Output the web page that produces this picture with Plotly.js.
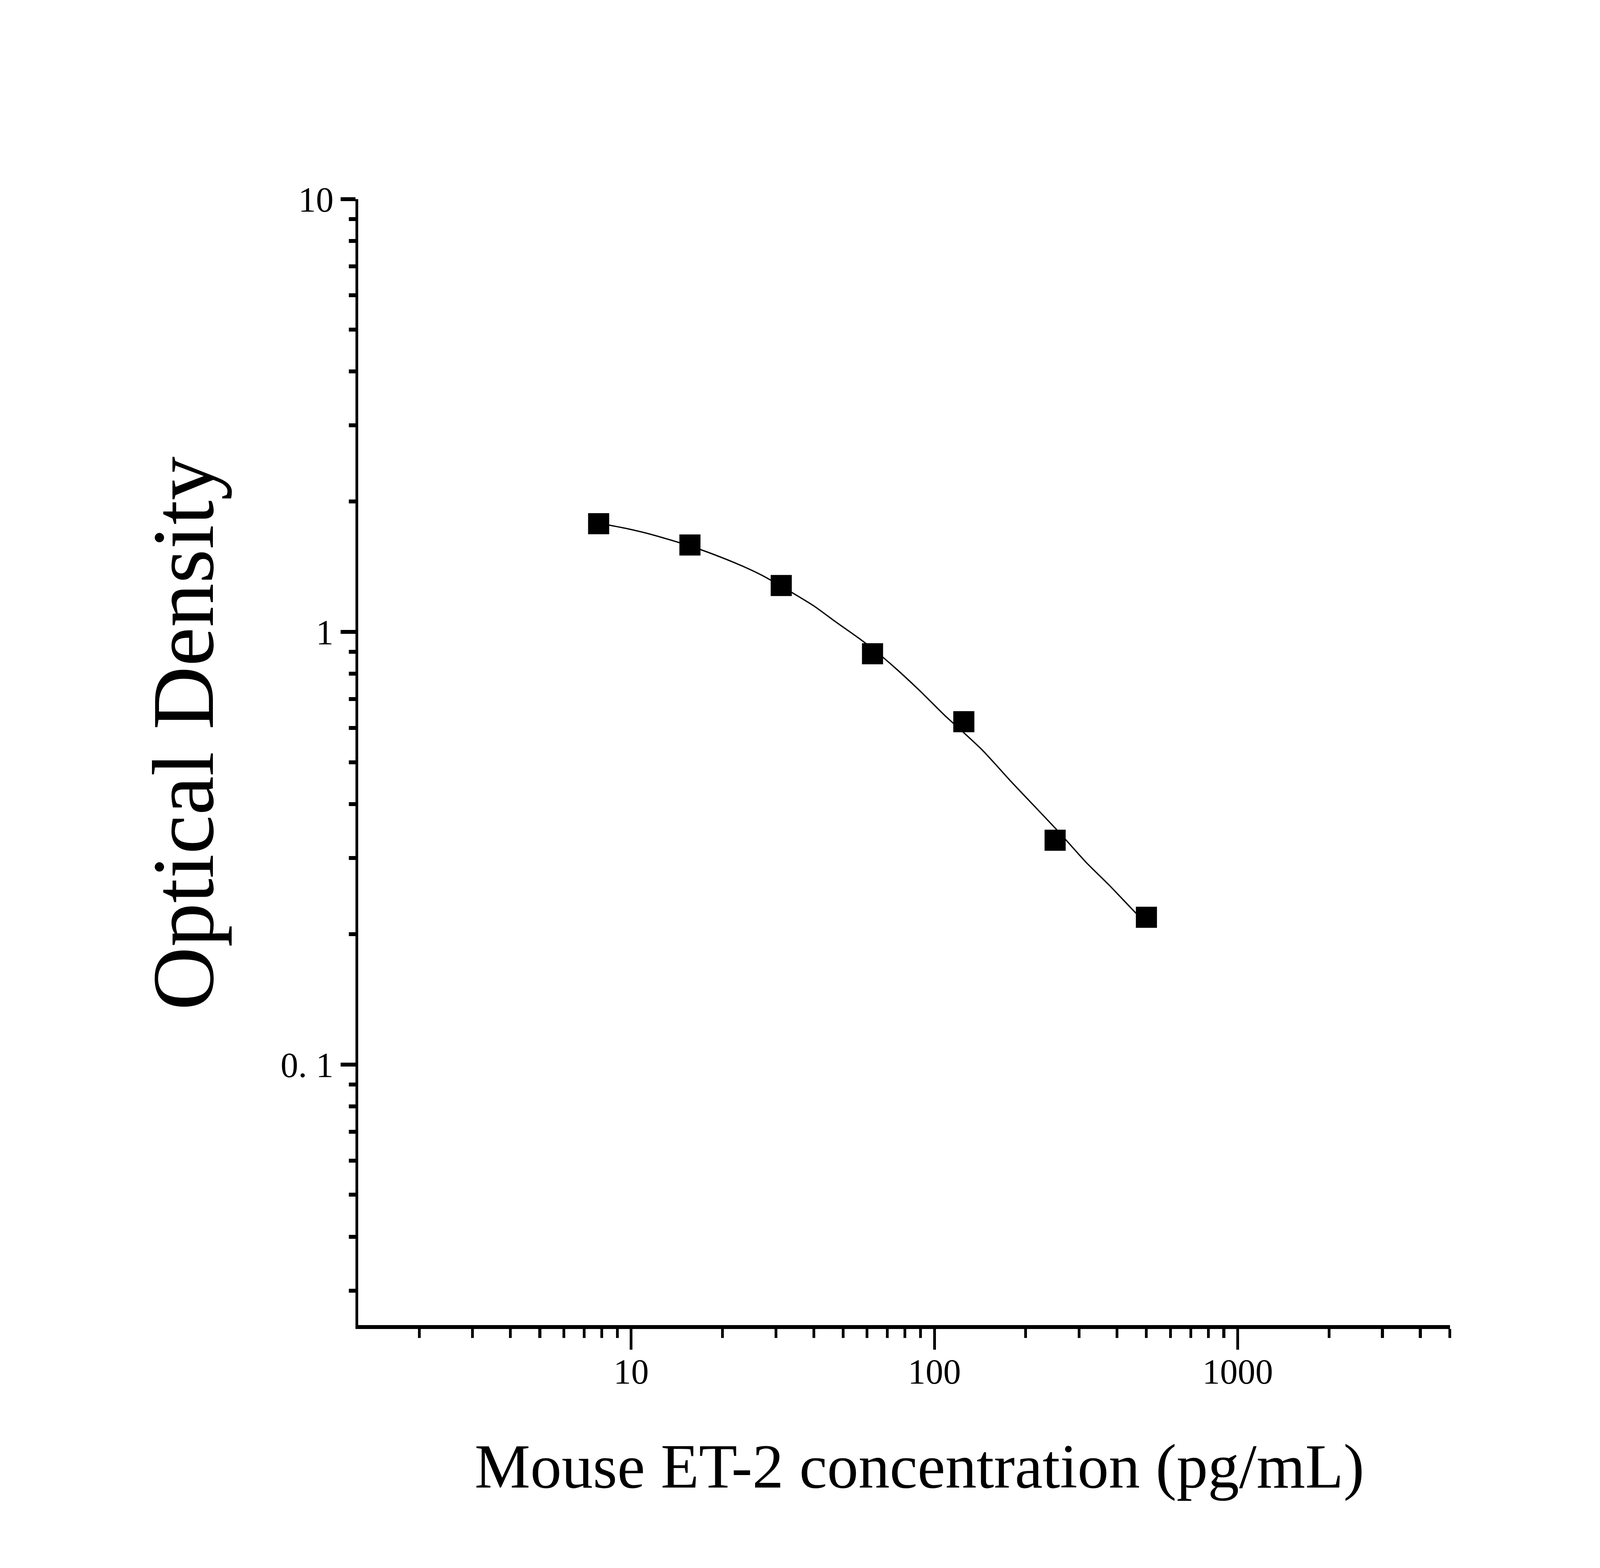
<!DOCTYPE html>
<html>
<head>
<meta charset="utf-8">
<script src="https://cdn.plot.ly/plotly-3.0.1.min.js"></script>
<style>
  html, body { margin: 0; padding: 0; background: #ffffff; overflow: hidden; }
  #chart { position: absolute; left: 0; top: 0; }
</style>
</head>
<body>
<div id="chart"></div>
<script>
/* ── data ─────────────────────────────────────────────────── */
const concentration = [7.8125, 15.625, 31.25, 62.5, 125, 250, 500];
const opticalDensity = [1.778, 1.588, 1.280, 0.890, 0.620, 0.330, 0.219];

// fitted curve
const fitX = [7.8125, 9.73, 11.82, 15.62, 19.67, 23.28, 26.94, 31.24, 40.26, 46.97,
              56.09, 62.47, 74.45, 89.85, 108.4, 121.3, 143.9, 178.9, 213.3, 256.9,
              316, 376.5, 461.3, 500];
const fitY = [1.783, 1.731, 1.675, 1.580, 1.490, 1.419, 1.352, 1.275, 1.145, 1.058,
              0.969, 0.915, 0.824, 0.729, 0.640, 0.596, 0.533, 0.451, 0.396, 0.345,
              0.2935, 0.260, 0.224, 0.212];

// tick labels
const xTickVals = [10, 100, 1000];
const xTickText = ["10", "100", "1000"];
const xMinorVals = [2, 3, 4, 5, 6, 7, 8, 9, 20, 30, 40, 50, 60, 70, 80, 90,
                    200, 300, 400, 500, 600, 700, 800, 900, 2000, 3000, 4000, 5000];
const yTickVals = [0.1, 1, 10];
const yTickText = ["0. 1", "1", "10"];
const yMinorVals = [0.03, 0.04, 0.05, 0.06, 0.07, 0.08, 0.09,
                    0.2, 0.3, 0.4, 0.5, 0.6, 0.7, 0.8, 0.9,
                    2, 3, 4, 5, 6, 7, 8, 9];

const xTitle = "Mouse ET-2 concentration (pg/mL)";
const yTitle = "Optical Density";

/* ── style ─────────────────────────────────────────────────── */
const serif = "'Liberation Serif', 'Times New Roman', serif";
const ink = "#000000";

// design is 5749 x 4015; stretch it over the real window
const BASE_W = 5749, BASE_H = 4015;
const W = window.innerWidth || BASE_W;
const H = window.innerHeight || BASE_H;
const sx = W / BASE_W, sy = H / BASE_H;
const sf = Math.sqrt(sx * sy);          // marker / line scale
const hx = v => v * sx;                 // horizontal sizes
const vy = v => v * sy;                 // vertical sizes
const f  = v => v * sf;

const fitTrace = {
    x: fitX,
    y: fitY,
    type: "scatter",
    mode: "lines",
    line: { color: ink, width: f(4), shape: "spline", smoothing: 0.6 },
    hoverinfo: "skip",
    showlegend: false
};

const pointTrace = {
    x: concentration,
    y: opticalDensity,
    type: "scatter",
    mode: "markers",
    marker: { symbol: "square", size: f(64), color: ink, line: { width: 0 } },
    showlegend: false
};

// x ticks run vertically, y ticks horizontally
function axisStyle(lenScale, widthScale) {
    return {
        type: "log",
        showline: true,
        linecolor: ink,
        linewidth: lenScale(10),
        showgrid: false,
        zeroline: false,
        ticks: "outside",
        tickcolor: ink,
        tickwidth: widthScale(10),
        ticklen: lenScale(53),
        tickmode: "array",
        tickfont: { family: serif, size: hx(127), color: ink },
        automargin: false,
        fixedrange: true,
        minor: {
            ticks: "outside",
            ticklen: lenScale(23),
            tickwidth: widthScale(10),
            tickcolor: ink,
            showgrid: false,
            tickmode: "array"
        }
    };
}

const xStyle = axisStyle(vy, hx);
const yStyle = axisStyle(hx, vy);

const layout = {
    width: W,
    height: H,
    margin: { l: hx(1287), r: hx(539), t: vy(510), b: vy(622), pad: 0 },
    paper_bgcolor: "#ffffff",
    plot_bgcolor: "#ffffff",
    font: { family: serif, color: ink },
    showlegend: false,
    xaxis: {
        ...xStyle,
        range: [0.1, 3.7],
        tickvals: xTickVals,
        ticktext: xTickText,
        ticklabelstandoff: vy(-22),
        minor: { ...xStyle.minor, tickvals: xMinorVals }
    },
    yaxis: {
        ...yStyle,
        range: [Math.log10(0.025), 1],
        tickvals: yTickVals,
        ticktext: yTickText,
        ticklabelstandoff: hx(14),
        minor: { ...yStyle.minor, tickvals: yMinorVals }
    },
    annotations: [
        {
            text: xTitle,
            xref: "paper", yref: "paper",
            x: 0.5143, y: -0.094,
            xanchor: "center", yanchor: "top",
            showarrow: false,
            font: { family: serif, size: hx(225), color: ink }
        },
        {
            // rotated title: its length runs along the vertical
            text: yTitle,
            xref: "paper", yref: "paper",
            x: -0.1148, y: 0.5255,
            xanchor: "right", yanchor: "middle",
            textangle: -90,
            showarrow: false,
            font: { family: serif, size: vy(225), color: ink }
        }
    ]
};

Plotly.newPlot("chart", [fitTrace, pointTrace], layout, { staticPlot: true, displayModeBar: false });
</script>
</body>
</html>
